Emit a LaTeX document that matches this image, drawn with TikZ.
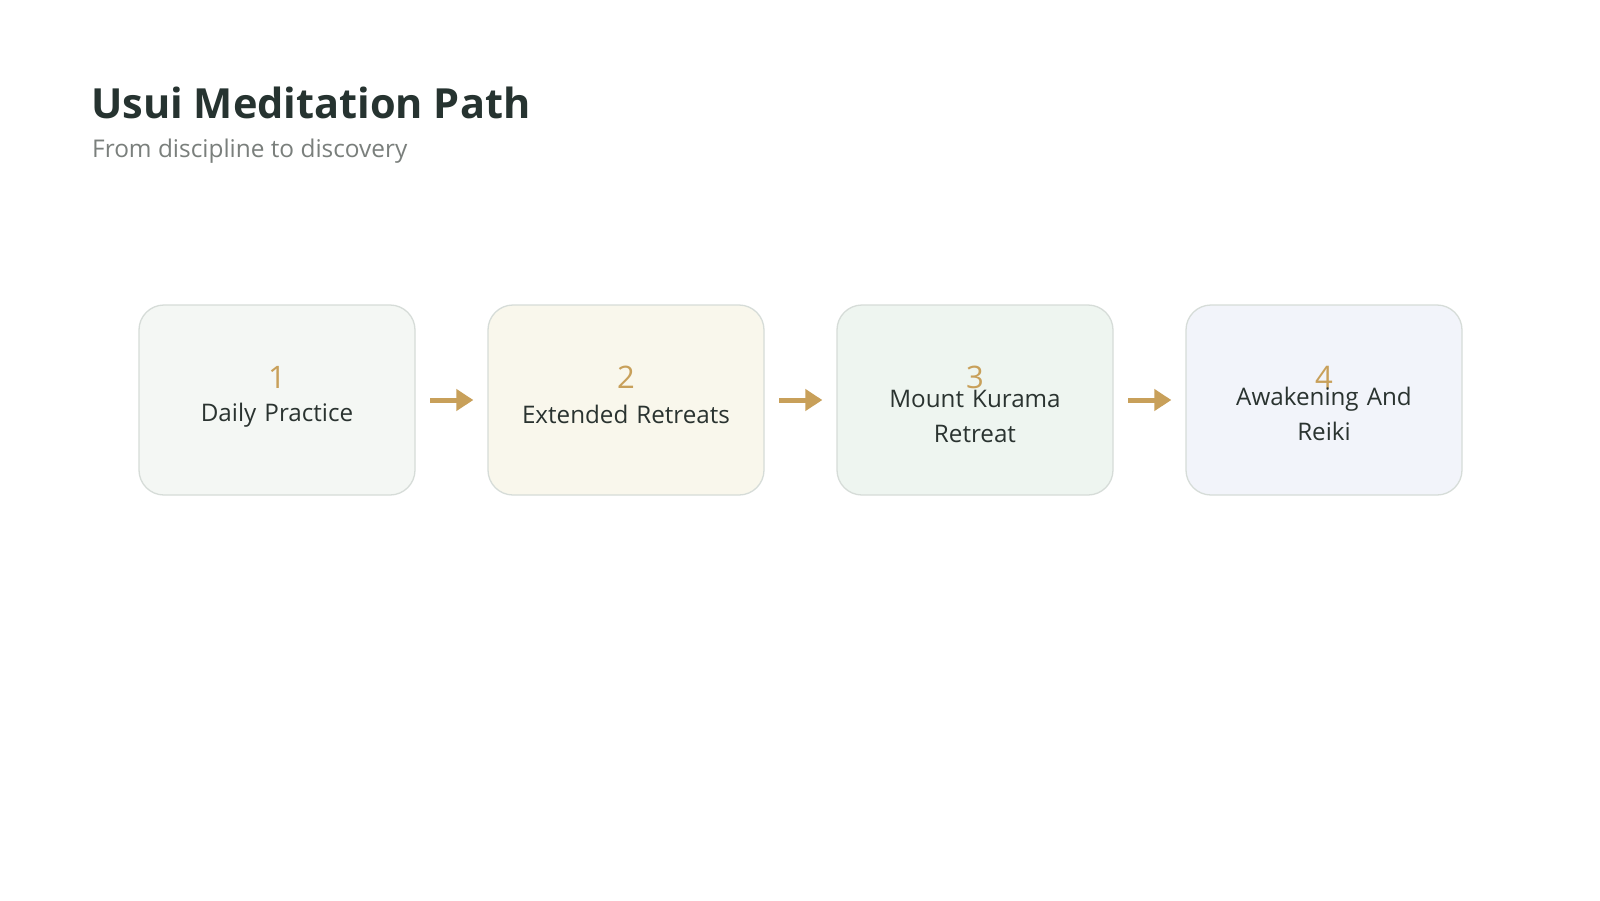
\documentclass[tikz,border=0pt]{standalone}
\usepackage{amsmath}
\usepackage{fontspec}
\setmainfont{Open Sans}
\usetikzlibrary{arrows.meta,positioning}

\definecolor{tytul}{HTML}{263330}
\definecolor{podtytul}{HTML}{7A7F7C}
\definecolor{zloty}{HTML}{C8A05A}
\definecolor{ramka}{HTML}{D6DCD8}
\definecolor{tekst}{HTML}{2A3330}
\definecolor{tlo1}{HTML}{F4F7F4}
\definecolor{tlo2}{HTML}{F9F7EC}
\definecolor{tlo3}{HTML}{EEF5F0}
\definecolor{tlo4}{HTML}{F2F4FA}

\begin{document}
\begin{tikzpicture}[x=1pt, y=-1pt,
    etap/.style={rectangle, rounded corners=25pt, draw=ramka, line width=1.3pt, minimum width=276pt, minimum height=190pt},
    numer/.style={text=zloty, font=\fontsize{31}{36}\selectfont, inner sep=0pt},
    opis/.style={text=tekst, font=\fontsize{24.2}{35}\selectfont, align=center, text width=240pt, inner sep=0pt},
    strzalka/.style={draw=zloty, line width=5pt, -{Triangle[length=17pt,width=21pt]}, shorten <=14.4pt, shorten >=14pt}]
        \fill[white] (0,0) rectangle (1600,900);
        \useasboundingbox (0,0) rectangle (1600,900);

        % Tytuł
        \node[anchor=base west, inner sep=0pt, text=tytul, font=\fontsize{41.5}{50}\selectfont\bfseries] (title) at (91,118) {Usui Meditation Path};
        \node[anchor=base west, inner sep=0pt, text=podtytul, font=\fontsize{24.4}{30}\selectfont] (subtitle) at (92,157) {From discipline to discovery};

        \matrix[draw=none, column sep=71.7pt] at (800.5,400) {
            \node[etap, fill=tlo1] (daily) {}; &
            \node[etap, fill=tlo2] (extended) {}; &
            \node[etap, fill=tlo3] (kurama) {}; &
            \node[etap, fill=tlo4] (awakening) {}; \\
        };

        % Numery etapów
        \node[numer] at ([yshift=23pt]daily.center) {1};
        \node[numer] at ([yshift=23pt]extended.center) {2};
        \node[numer] at ([yshift=23pt]kurama.center) {3};
        \node[numer] at ([yshift=23pt]awakening.center) {4};

        % Opisy etapów
        \node[opis] at ([yshift=-15pt]daily.center) {Daily Practice};
        \node[opis] at ([yshift=-14.5pt]extended.center) {Extended Retreats};
        \node[opis] at ([yshift=-16pt]kurama.center) {Mount Kurama\\Retreat};
        \node[opis] at ([yshift=-14pt]awakening.center) {Awakening And\\Reiki};

        \draw[strzalka] (daily) -- (extended);
        \draw[strzalka] (extended) -- (kurama);
        \draw[strzalka] (kurama) -- (awakening);
    \end{tikzpicture}
\end{document}
